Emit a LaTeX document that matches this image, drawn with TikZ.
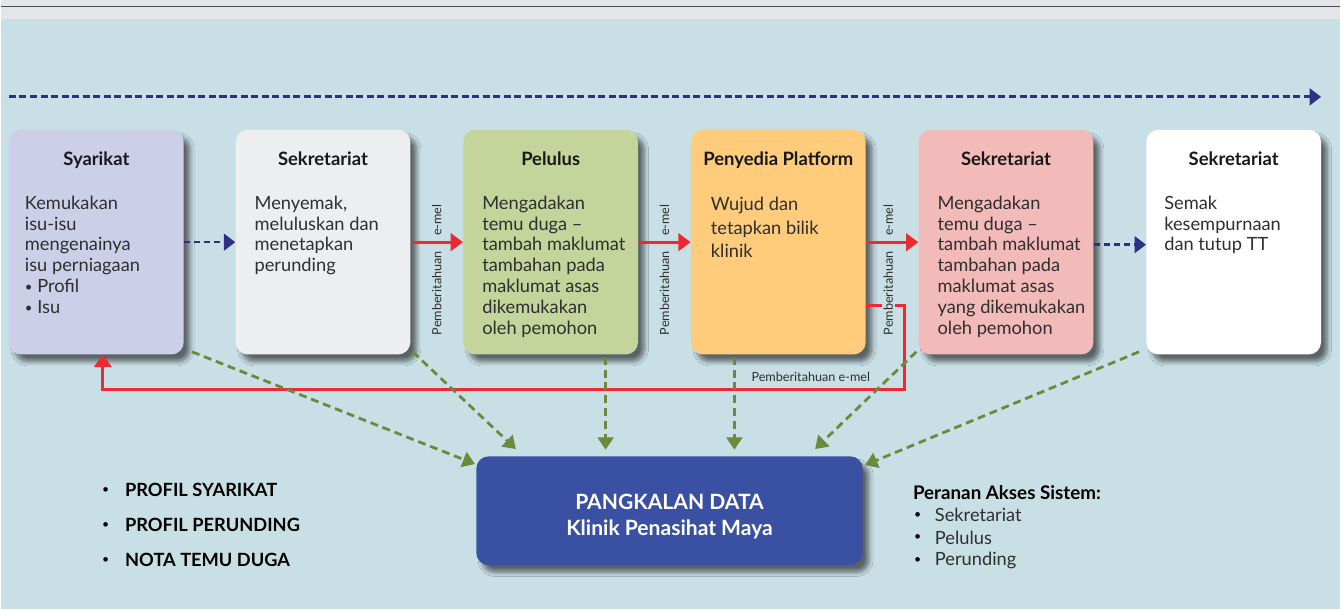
\documentclass[tikz,border=0pt]{standalone}
\usepackage{fontspec}
\setmainfont{Lato}
\usetikzlibrary{arrows.meta,positioning,calc,shadows.blur}

\definecolor{bgblue}{HTML}{C8DFE6}
\definecolor{topgrey}{HTML}{E3E5E9}
\definecolor{navyline}{HTML}{2E3181}
\definecolor{redline}{HTML}{EE2A30}
\definecolor{greenline}{HTML}{6B8A3B}
\definecolor{dbblue}{HTML}{3A50A3}
\definecolor{txtgrey}{HTML}{2F2F2F}
\definecolor{lav}{HTML}{CDCFE9}
\definecolor{pale}{HTML}{ECEEF0}
\definecolor{sage}{HTML}{C4D49B}
\definecolor{apricot}{HTML}{FECC7B}
\definecolor{rose}{HTML}{F2BAB9}

\begin{document}
\begin{tikzpicture}[x=0.02cm, y=-0.02cm,
  box/.style={rounded corners=7pt, minimum width=3.5cm, minimum height=4.5cm, inner sep=0pt,
    blur shadow={shadow xshift=3.5pt, shadow yshift=-4pt, shadow blur radius=2.5pt, shadow blur steps=8, shadow opacity=55}},
  boxtitle/.style={font=\fontsize{10.5}{12}\selectfont\bfseries, inner sep=0pt, anchor=base, text=black!90},
  body/.style={font=\fontsize{10.4}{11.9}\selectfont, align=left, anchor=north west, inner sep=0pt, text=txtgrey},
  mail/.style={font=\fontsize{7.2}{8}\selectfont, rotate=90, inner sep=0pt, text=txtgrey},
  redarrow/.style={draw=redline, line width=1.7pt, -{Triangle[length=7pt,width=10pt]}},
  navyarrow/.style={draw=navyline, line width=1.4pt, dash pattern=on 3.4pt off 2.3pt, -{Triangle[length=6.5pt,width=9.5pt]}},
  greenarrow/.style={draw=greenline, line width=1.6pt, dash pattern=on 4.5pt off 2.8pt, -{Triangle[length=7pt,width=9pt]}},
  listtext/.style={font=\fontsize{10.4}{12}\selectfont\bfseries, anchor=west, inner sep=0pt},
  dot/.style={font=\fontsize{7}{8}\selectfont, anchor=west, inner sep=0pt}
]
% Background
\fill[bgblue] (0,0) rectangle (1341,610);
\fill[topgrey] (0,0) rectangle (1341,19);
\draw[black!70, line width=1.1pt] (0,6.5) -- (1341,6.5);

% Time line
\coordinate (t0) at (8,97);
\coordinate (t1) at (1322,97);
\draw[navyarrow, line width=1.7pt, dash pattern=on 4pt off 2pt] (t0) -- (t1);

% Process boxes
\foreach \n/\x/\c/\lbl in {syarikat/95.5/lav/Syarikat, sek1/322.5/pale/Sekretariat,
    pelulus/550.5/sage/Pelulus, penyedia/778.5/apricot/Penyedia Platform,
    sek2/1006.5/rose/Sekretariat, sek3/1234.5/white/Sekretariat} {
  \node[box, fill=\c] (\n) at (\x,242.5) {};
  \node[boxtitle] at ($(\n.north)+(0,36)$) {\lbl};
}
\node[body] (b1) at ($(syarikat.north west)+(16,66)$) {Kemukakan\\isu-isu\\mengenainya\\isu perniagaan\\\raisebox{0.5pt}{\fontsize{7.5}{8}\selectfont•} Profil\\\raisebox{0.5pt}{\fontsize{7.5}{8}\selectfont•} Isu};
\node[body] (b2) at ($(sek1.north west)+(19,66)$) {Menyemak,\\meluluskan dan\\menetapkan\\perunding};
\node[body] (b3) at ($(pelulus.north west)+(19,66)$) {Mengadakan\\temu duga --\\tambah maklumat\\tambahan pada\\maklumat asas\\dikemukakan\\oleh pemohon};
\node[body, font=\fontsize{10.4}{13.6}\selectfont] (b4) at ($(penyedia.north west)+(20,67)$) {Wujud dan\\tetapkan bilik\\klinik};
\node[body] (b5) at ($(sek2.north west)+(19,66)$) {Mengadakan\\temu duga --\\tambah maklumat\\tambahan pada\\maklumat asas\\yang dikemukakan\\oleh pemohon};
\node[body] (b6) at ($(sek3.north west)+(18,66)$) {Semak\\kesempurnaan\\dan tutup TT};

% Database
\node[box, fill=dbblue, minimum width=7.74cm, minimum height=2.18cm] (db) at (669.5,511.5) {};
\node[text=white, font=\fontsize{12}{14.7}\selectfont\bfseries, align=center, inner sep=0pt]
  (dbtext) at ($(db.center)+(0,6)$) {PANGKALAN DATA\\Klinik Penasihat Maya};

% Flow between boxes
\draw[navyarrow] (syarikat) -- (sek1);
\draw[redarrow] (sek1) -- (pelulus);
\draw[redarrow] (pelulus) -- (penyedia);
\draw[redarrow] (penyedia) -- (sek2);
\draw[navyarrow] ($(sek2.east)+(0,2.5)$) -- ($(sek3.west)+(0,2.5)$);

% Return notice to Syarikat
\coordinate (ret) at (905,390);
\draw[redarrow] ($(penyedia.east)+(0,63)$) -| (ret) -| ($(syarikat.south)+(6.5,0)$);
\node[font=\fontsize{7.2}{8}\selectfont, text=txtgrey, inner sep=0pt] (note) at ($(ret)+(-94,-13)$) {Pemberitahuan e-mel};

% e-mail labels
\foreach \a/\b/\s in {sek1/pelulus/0, pelulus/penyedia/0, penyedia/sek2/-4} {
  \coordinate (m) at ($(\a.east)!0.5!(\b.west)+(\s,0)$);
  \node[mail, anchor=west] at ($(m)+(0,-6)$) {e-mel};
  \node[mail, anchor=east, fill=bgblue, inner sep=1pt] at ($(m)+(0,7)$) {Pemberitahuan};
}

% Data to database
\draw[greenarrow] ($(syarikat.south east)+(8,-3)$) -- ($(db.north west)+(-1,8)$);
\draw[greenarrow] ($(sek1.south east)+(2,-3)$) -- ($(db.north west)+(40,-7)$);
\draw[greenarrow] ($(pelulus.south)+(55,2)$) -- ++(0,93);
\draw[greenarrow] ($(penyedia.south)+(-44,2)$) -- ++(0,93);
\draw[greenarrow] ($(sek2.south west)+(-2,-3)$) -- ($(db.north east)+(-48,-7)$);
\draw[greenarrow] ($(sek3.south west)+(-7,-3)$) -- ($(db.north east)+(2,9)$);

% Records list
\foreach \lbl [count=\i] in {PROFIL SYARIKAT, PROFIL PERUNDING, NOTA TEMU DUGA} {
  \node[listtext] (l\i) at (124,456+35*\i) {\lbl};
  \node[dot] at (101,456+35*\i) {•};
}
% Access roles
\node[listtext, font=\fontsize{10.7}{12}\selectfont\bfseries] (roles) at (913,493) {Peranan Akses Sistem:};
\foreach \r [count=\i] in {Sekretariat, Pelulus, Perunding} {
  \node[listtext, font=\fontsize{10.4}{12}\selectfont, text=txtgrey] (r\i) at (935,493.5+22.5*\i) {\r};
  \node[dot] at (914,493.5+22.5*\i) {•};
}
\end{tikzpicture}
\end{document}
